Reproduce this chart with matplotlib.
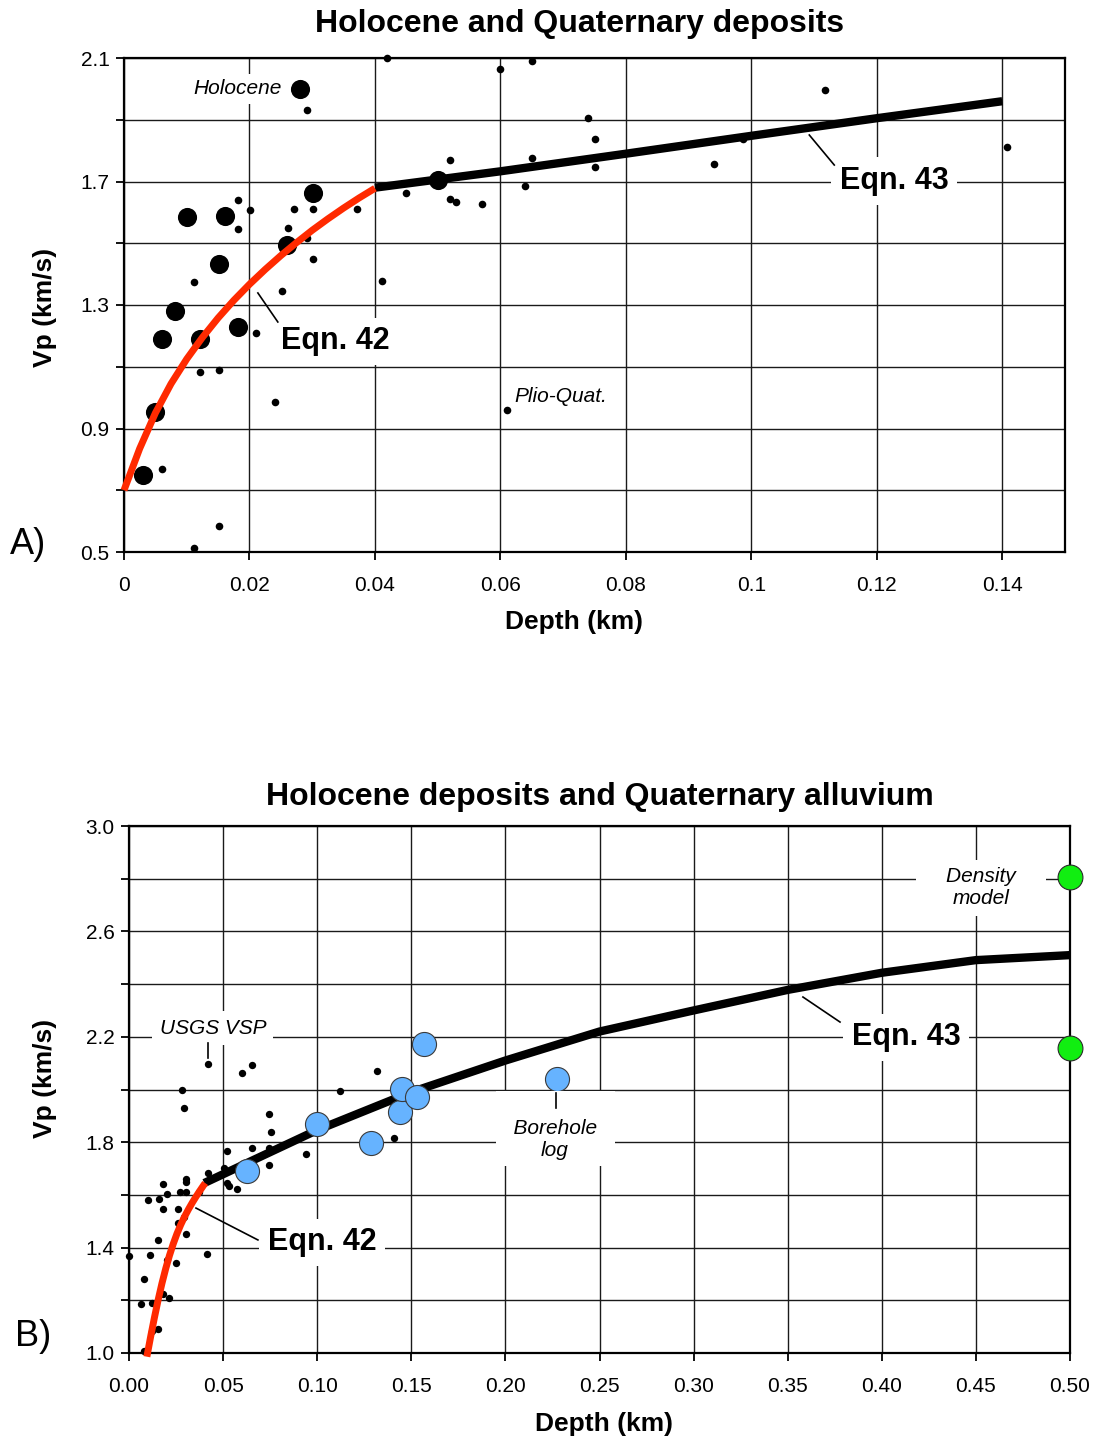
import matplotlib
matplotlib.use('Agg')
import matplotlib.pyplot as plt
from matplotlib.ticker import FixedLocator

plt.rcParams['font.family'] = ['Liberation Sans', 'DejaVu Sans']

# ---------------- Panel A data ----------------
holo_x = [0.0030, 0.0049, 0.0060, 0.0081, 0.0100, 0.0121, 0.0151, 0.0161, 0.0182,
          0.0260, 0.0280, 0.0301, 0.0500]
holo_y = [0.750, 0.953, 1.190, 1.280, 1.585, 1.190, 1.433, 1.588, 1.229,
          1.494, 2.000, 1.663, 1.705]

pq_x = [0.0420, 0.0291, 0.0182, 0.0201, 0.0271, 0.0301, 0.0371, 0.0182, 0.0261, 0.0291,
        0.0301, 0.0111, 0.0252, 0.0411, 0.0210, 0.0121, 0.0151, 0.0240, 0.0060, 0.0151,
        0.0111, 0.0600, 0.0650, 0.0740, 0.0750, 0.0520, 0.0650, 0.0750, 0.0450, 0.0520,
        0.0530, 0.0570, 0.0640, 0.0940, 0.0987, 0.1118, 0.1408, 0.0610]
pq_y = [2.100, 1.932, 1.640, 1.608, 1.611, 1.611, 1.611, 1.546, 1.549, 1.517,
        1.449, 1.374, 1.345, 1.378, 1.209, 1.083, 1.089, 0.986, 0.769, 0.584,
        0.513, 2.064, 2.090, 1.906, 1.838, 1.770, 1.776, 1.747, 1.663, 1.643,
        1.634, 1.627, 1.685, 1.757, 1.838, 1.996, 1.812, 0.960]

eq42a_x = [0.0, 0.0025, 0.005, 0.0075, 0.010, 0.0125, 0.015, 0.0175, 0.020, 0.0225,
           0.025, 0.0275, 0.030, 0.0325, 0.035, 0.0375, 0.040]
eq42a_y = [0.700, 0.835, 0.950, 1.045, 1.125, 1.195, 1.258, 1.315, 1.367, 1.415,
           1.460, 1.502, 1.542, 1.579, 1.614, 1.647, 1.678]

eq43a_x = [0.04, 0.06, 0.08, 0.10, 0.12, 0.14]
eq43a_y = [1.68, 1.733, 1.79, 1.848, 1.905, 1.96]

a_xticks = [0, 0.02, 0.04, 0.06, 0.08, 0.10, 0.12, 0.14]
a_xlabels = ["0", "0.02", "0.04", "0.06", "0.08", "0.1", "0.12", "0.14"]
a_yticks = [0.5, 0.9, 1.3, 1.7, 2.1]
a_yminor = [0.7, 1.1, 1.5, 1.9]

# ---------------- Panel B data ----------------
vsp_x = [0.0421, 0.0282, 0.0294, 0.0602, 0.0652, 0.1320, 0.1120, 0.0742, 0.0753, 0.0522,
         0.0652, 0.0742, 0.0742, 0.0942, 0.1410, 0.0421, 0.0503, 0.0522, 0.0531, 0.0572,
         0.0303, 0.0303, 0.0182, 0.0271, 0.0303, 0.0374, 0.0204, 0.0103, 0.0161, 0.0182,
         0.0262, 0.0294, 0.0262, 0.0303, 0.0152, 0.0002, 0.0113, 0.0414, 0.0204, 0.0251,
         0.0080, 0.0182, 0.0214, 0.0062, 0.0124, 0.0124, 0.0152, 0.0081]
vsp_y = [2.098, 1.997, 1.931, 2.064, 2.092, 2.069, 1.996, 1.906, 1.838, 1.767,
         1.777, 1.777, 1.715, 1.755, 1.815, 1.683, 1.703, 1.646, 1.634, 1.623,
         1.660, 1.650, 1.640, 1.610, 1.610, 1.610, 1.605, 1.582, 1.586, 1.545,
         1.548, 1.515, 1.492, 1.450, 1.430, 1.368, 1.371, 1.377, 1.352, 1.342,
         1.281, 1.225, 1.210, 1.187, 1.190, 1.085, 1.091, 1.009]

bore_x = [0.0625, 0.0999, 0.1288, 0.1440, 0.1450, 0.1532, 0.1569, 0.2273]
bore_y = [1.690, 1.869, 1.797, 1.913, 2.002, 1.973, 2.171, 2.039]

dens_x = [0.5, 0.5]
dens_y = [2.806, 2.157]

eq42b_x = [0.0095, 0.0115, 0.0135, 0.0155, 0.0175, 0.0195, 0.0215, 0.0235, 0.0255,
           0.0275, 0.0295, 0.0315, 0.0335, 0.0355, 0.0375, 0.0395, 0.0405]
eq42b_y = [0.986, 1.062, 1.134, 1.202, 1.264, 1.320, 1.370, 1.414, 1.453,
           1.487, 1.517, 1.544, 1.569, 1.592, 1.614, 1.635, 1.645]

eq43b_x = [0.04, 0.10, 0.15, 0.20, 0.25, 0.30, 0.35, 0.40, 0.45, 0.50]
eq43b_y = [1.645, 1.846, 1.99, 2.11, 2.22, 2.30, 2.378, 2.443, 2.491, 2.51]

b_xticks = [0.0, 0.05, 0.10, 0.15, 0.20, 0.25, 0.30, 0.35, 0.40, 0.45, 0.50]
b_xlabels = ["0.00", "0.05", "0.10", "0.15", "0.20", "0.25", "0.30", "0.35", "0.40", "0.45", "0.50"]
b_yticks = [1.0, 1.4, 1.8, 2.2, 2.6, 3.0]
b_ylabels = ["1.0", "1.4", "1.8", "2.2", "2.6", "3.0"]
b_yminor = [1.2, 1.6, 2.0, 2.4, 2.8]

RED = '#ff2a00'
GRID = '#1a1a1a'

fig = plt.figure(figsize=(10.94, 14.41), dpi=100)
axA = fig.add_axes([124 / 1094, 1 - 552 / 1441, 941 / 1094, 494 / 1441])
axB = fig.add_axes([129 / 1094, 1 - 1353 / 1441, 941 / 1094, 527 / 1441])


def style(ax):
    ax.set_axisbelow(True)
    for s in ax.spines.values():
        s.set_linewidth(1.6)
        s.set_color('black')
    ax.tick_params(which='both', direction='out', length=5.5, width=1.3,
                   labelsize=15, colors='black')
    ax.tick_params(axis='x', which='both', pad=12)
    ax.tick_params(axis='y', which='both', pad=5)
    ax.grid(True, which='both', color=GRID, linewidth=1.0)


# ---------------- Panel A ----------------
axA.set_xlim(0, 0.15)
axA.set_ylim(0.5, 2.1)
axA.set_xticks(a_xticks)
axA.set_xticklabels(a_xlabels)
axA.set_yticks(a_yticks)
axA.set_yticklabels([f"{v:.1f}" for v in a_yticks])
axA.yaxis.set_minor_locator(FixedLocator(a_yminor))
style(axA)

axA.scatter(pq_x, pq_y, s=30, color='black', zorder=3, clip_on=False, linewidths=0)
axA.scatter(holo_x, holo_y, s=190, color='black', zorder=3, linewidths=0)
axA.plot(eq43a_x, eq43a_y, color='black', lw=6, zorder=4, solid_capstyle='butt',
         solid_joinstyle='round')
axA.plot(eq42a_x, eq42a_y, color=RED, lw=5, zorder=5, solid_capstyle='butt',
         solid_joinstyle='round', clip_on=False)

txtA_small = dict(fontsize=15, style='italic', ha='center', va='center', zorder=6)
axA.text(0.01815, 2.0, "Holocene", bbox=dict(boxstyle='square,pad=0.25', fc='white', ec='none'),
         **txtA_small)
axA.text(0.0696, 1.005, "Plio-Quat.", **txtA_small)

eqn_box = dict(boxstyle='square,pad=0.28', fc='white', ec='none')
axA.text(0.03376, 1.183, "Eqn. 42", fontsize=22, fontweight='bold', ha='center', va='center',
         bbox=eqn_box, zorder=6)
axA.plot([0.02134, 0.02452], [1.339, 1.245], color='black', lw=1.2, zorder=6)
axA.text(0.12277, 1.7016, "Eqn. 43", fontsize=22, fontweight='bold', ha='center', va='center',
         bbox=eqn_box, zorder=6)
axA.plot([0.10924, 0.11322], [1.8506, 1.7534], color='black', lw=1.2, zorder=6)

# ---------------- Panel B ----------------
axB.set_xlim(0, 0.5)
axB.set_ylim(1.0, 3.0)
axB.set_xticks(b_xticks)
axB.set_xticklabels(b_xlabels)
axB.set_yticks(b_yticks)
axB.set_yticklabels(b_ylabels)
axB.yaxis.set_minor_locator(FixedLocator(b_yminor))
style(axB)

axB.scatter(vsp_x, vsp_y, s=28, color='black', zorder=3, clip_on=False, linewidths=0)
axB.plot(eq43b_x, eq43b_y, color='black', lw=6, zorder=4, solid_capstyle='butt',
         solid_joinstyle='round')
axB.plot(eq42b_x, eq42b_y, color=RED, lw=5, zorder=5, solid_capstyle='butt',
         solid_joinstyle='round', clip_on=False)
axB.scatter(bore_x, bore_y, s=300, color='#66b3ff', edgecolors='#3a3a3a', linewidths=0.8,
            zorder=6)
axB.scatter(dens_x, dens_y, s=320, color='#11ee11', edgecolors='#2a2a2a', linewidths=0.8,
            zorder=8, clip_on=False)

smallB = dict(fontsize=15, style='italic', ha='center', va='center', zorder=7)
axB.text(0.0446, 2.233, "USGS VSP", bbox=dict(boxstyle='square,pad=0.35', fc='white', ec='none'),
         **smallB)
axB.plot([0.042, 0.042], [2.176, 2.12], color='black', lw=1.2, zorder=7)

axB.text(0.4527, 2.765, "    Density    \nmodel", linespacing=1.2,
         bbox=dict(boxstyle='square,pad=0.35', fc='white', ec='none'), **smallB)

axB.text(0.2264, 1.852, "\n  Borehole  \nlog", linespacing=1.2,
         bbox=dict(boxstyle='square,pad=0.3', fc='white', ec='none'), **smallB)
axB.plot([0.2269, 0.2269], [1.987, 1.93], color='black', lw=1.2, zorder=8)

axB.text(0.1026, 1.421, "Eqn. 42", fontsize=22, fontweight='bold', ha='center', va='center',
         bbox=eqn_box, zorder=7)
axB.plot([0.0356, 0.0685], [1.550, 1.429], color='black', lw=1.2, zorder=7)
axB.text(0.4129, 2.199, "Eqn. 43", fontsize=22, fontweight='bold', ha='center', va='center',
         bbox=eqn_box, zorder=7)
axB.plot([0.3581, 0.3778], [2.351, 2.256], color='black', lw=1.2, zorder=7)

# ---------------- Figure texts ----------------
fig.text(580 / 1094, 1 - 24 / 1441, "Holocene and Quaternary deposits", fontsize=23,
         fontweight='bold', ha='center', va='center')
fig.text(600 / 1094, 1 - 797 / 1441, "Holocene deposits and Quaternary alluvium", fontsize=23,
         fontweight='bold', ha='center', va='center')
fig.text(574 / 1094, 1 - 622 / 1441, "Depth (km)", fontsize=19, fontweight='bold',
         ha='center', va='center')
fig.text(604 / 1094, 1 - 1424 / 1441, "Depth (km)", fontsize=19, fontweight='bold',
         ha='center', va='center')
fig.text(45 / 1094, 1 - 307 / 1441, "Vp (km/s)", fontsize=19, fontweight='bold',
         rotation=90, ha='center', va='center')
fig.text(45 / 1094, 1 - 1078 / 1441, "Vp (km/s)", fontsize=19, fontweight='bold',
         rotation=90, ha='center', va='center')
fig.text(28 / 1094, 1 - 545 / 1441, "A)", fontsize=26, ha='center', va='center')
fig.text(33 / 1094, 1 - 1337 / 1441, "B)", fontsize=26, ha='center', va='center')

fig.savefig('out.png', dpi=100)
